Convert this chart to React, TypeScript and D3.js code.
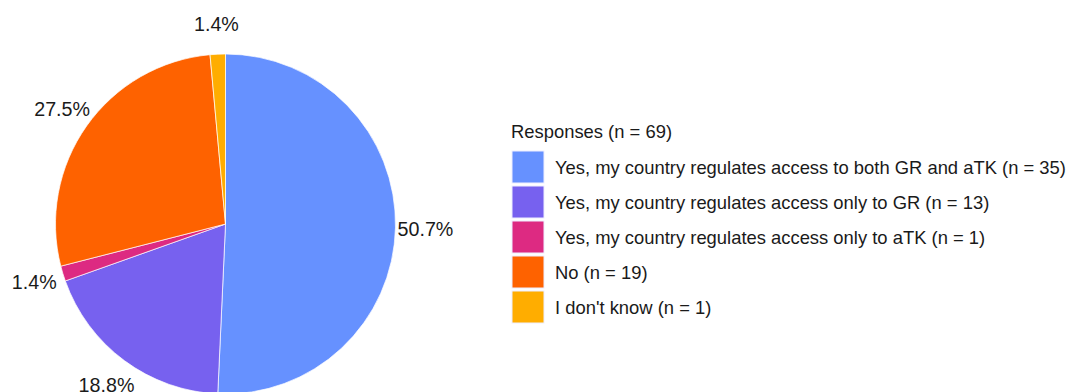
import React from "react";
import * as d3 from "d3";

const categories = [
  "Yes, my country regulates access to both GR and aTK",
  "Yes, my country regulates access only to GR",
  "Yes, my country regulates access only to aTK",
  "No",
  "I don't know",
];
const counts = [35, 13, 1, 19, 1];
const colors = ["#6691ff", "#7761ef", "#dd2a82", "#fe6200", "#ffad00"];
const legendTitle = "Responses (n = 69)";

const W = 1069;
const H = 392;
const cx = 225.5;
const cy = 224;
const R = 170;
const labelR = 200;

export default function App() {
  const total = d3.sum(counts);
  const pie = d3.pie<number>().sort(null).value((d) => d);
  const arcs = pie(counts);
  const arcGen = d3.arc<d3.PieArcDatum<number>>().innerRadius(0).outerRadius(R);
  const fmt = (v: number) => ((v / total) * 100).toFixed(1) + "%";

  return (
    <svg
      width={W}
      height={H}
      style={{ position: "absolute", left: 0, top: 0, background: "#fff" }}
      fontFamily="'Liberation Sans', Arial, sans-serif"
    >
      <g transform={`translate(${cx},${cy})`}>
        {arcs.map((a, i) => (
          <path key={i} d={arcGen(a) || ""} fill={colors[i]} stroke="#fff" strokeWidth={0.7} />
        ))}
        {arcs.map((a, i) => {
          const mid = (a.startAngle + a.endAngle) / 2;
          const x = labelR * Math.sin(mid);
          const y = -labelR * Math.cos(mid);
          return (
            <text
              key={"l" + i}
              x={x}
              y={y}
              textAnchor="middle"
              dominantBaseline="central"
              fontSize={19.7}
              fill="#1a1a1a"
            >
              {fmt(a.data)}
            </text>
          );
        })}
      </g>
      <g transform="translate(511,0)">
        <text x={0} y={138} fontSize={18.4} fill="#1a1a1a">
          {legendTitle}
        </text>
        {categories.map((c, i) => (
          <g key={c} transform={`translate(0,${151 + i * 35})`}>
            <rect x={1} y={0} width={32} height={32} fill={colors[i]} stroke="#eef" strokeWidth={1} />
            <text x={44} y={16} dominantBaseline="central" fontSize={18.4} fill="#1a1a1a">
              {`${c} (n = ${counts[i]})`}
            </text>
          </g>
        ))}
      </g>
    </svg>
  );
}
